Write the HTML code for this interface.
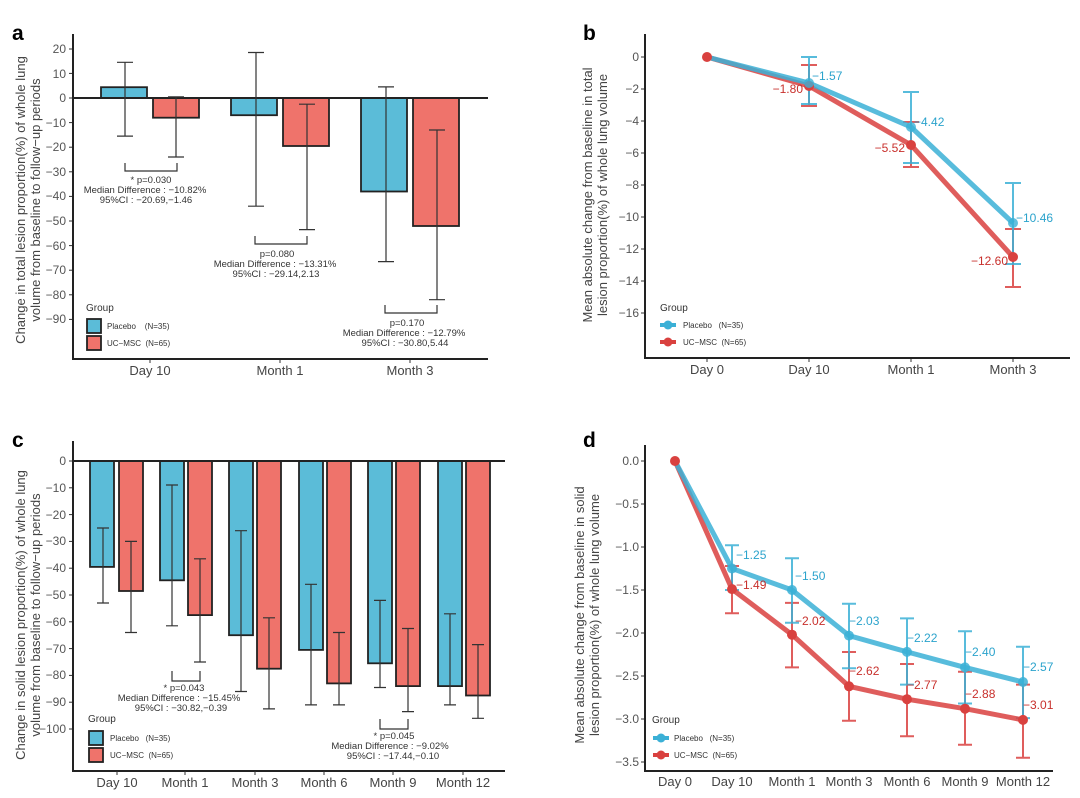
<!DOCTYPE html>
<html><head><meta charset="utf-8"><style>
html,body{margin:0;padding:0;background:#fff;}
svg{display:block;font-family:"Liberation Sans",sans-serif;}
.t{font-size:13px;fill:#444;}
.tk{font-size:12px;fill:#555;}
.sm{font-size:9.5px;fill:#333;}
.lg{font-size:8px;fill:#333;}
.ax{stroke:#222;stroke-width:2;fill:none;}
.eb{stroke:#333;stroke-width:1.2;fill:none;}
.bP{fill:#5bbcd8;stroke:#222;stroke-width:1.8;}
.bU{fill:#ef736b;stroke:#222;stroke-width:1.8;}
.lb{font-size:12px;}
</style></head><body>
<svg width="1080" height="798" viewBox="0 0 1080 798">
<text x="12" y="40" font-size="21" font-weight="bold">a</text>
<text x="583" y="40" font-size="21" font-weight="bold">b</text>
<text x="12" y="447" font-size="21" font-weight="bold">c</text>
<text x="583" y="447" font-size="21" font-weight="bold">d</text>

<!-- ===== Panel a ===== -->
<text class="t" transform="translate(25,200) rotate(-90)" text-anchor="middle">Change in total lesion proportion(%) of whole lung</text>
<text class="t" transform="translate(40,200) rotate(-90)" text-anchor="middle">volume from baseline to follow−up periods</text>
<g class="tk" text-anchor="end">
<text x="66" y="53">20</text><text x="66" y="78">10</text><text x="66" y="102">0</text>
<text x="66" y="127">−10</text><text x="66" y="151">−20</text><text x="66" y="176">−30</text>
<text x="66" y="200">−40</text><text x="66" y="225">−50</text><text x="66" y="250">−60</text>
<text x="66" y="274">−70</text><text x="66" y="299">−80</text><text x="66" y="323">−90</text>
</g>
<g stroke="#333" stroke-width="1">
<line x1="69" x2="73" y1="49" y2="49"/><line x1="69" x2="73" y1="73.4" y2="73.4"/><line x1="69" x2="73" y1="98" y2="98"/>
<line x1="69" x2="73" y1="122.6" y2="122.6"/><line x1="69" x2="73" y1="147.2" y2="147.2"/><line x1="69" x2="73" y1="171.8" y2="171.8"/>
<line x1="69" x2="73" y1="196.4" y2="196.4"/><line x1="69" x2="73" y1="221" y2="221"/><line x1="69" x2="73" y1="245.6" y2="245.6"/>
<line x1="69" x2="73" y1="270.2" y2="270.2"/><line x1="69" x2="73" y1="294.8" y2="294.8"/><line x1="69" x2="73" y1="319.4" y2="319.4"/>
<line x1="150" x2="150" y1="359" y2="363"/><line x1="280" x2="280" y1="359" y2="363"/><line x1="410" x2="410" y1="359" y2="363"/>
</g>
<rect class="bP" x="101" y="87.2" width="46" height="10.8"/>
<rect class="bU" x="153" y="98" width="46" height="19.7"/>
<rect class="bP" x="231" y="98" width="46" height="17.2"/>
<rect class="bU" x="283" y="98" width="46" height="48"/>
<rect class="bP" x="361" y="98" width="46" height="93.5"/>
<rect class="bU" x="413" y="98" width="46" height="128"/>
<line x1="73" x2="488" y1="98" y2="98" stroke="#222" stroke-width="2"/>
<g class="eb">
<path d="M125 62.3V136.1M117 62.3H133M117 136.1H133"/>
<path d="M176 96.8V157M168 96.8H184M168 157H184"/>
<path d="M256 52.5V206.2M248 52.5H264M248 206.2H264"/>
<path d="M307 104.2V229.6M299 104.2H315M299 229.6H315"/>
<path d="M386 86.9V261.6M378 86.9H394M378 261.6H394"/>
<path d="M437 130V299.7M429 130H445M429 299.7H445"/>
<path d="M125 163V171H177V163"/>
<path d="M255 236V244H307V236"/>
<path d="M385 305V313H437V305"/>
</g>
<g class="sm" text-anchor="middle">
<text x="151" y="183">* p=0.030</text>
<text x="145" y="193">Median Difference : −10.82%</text>
<text x="146" y="203">95%CI : −20.69,−1.46</text>
<text x="277" y="257">p=0.080</text>
<text x="275" y="267">Median Difference : −13.31%</text>
<text x="276" y="277">95%CI : −29.14,2.13</text>
<text x="407" y="326">p=0.170</text>
<text x="404" y="336">Median Difference : −12.79%</text>
<text x="405" y="346">95%CI : −30.80,5.44</text>
</g>
<text x="86" y="311" font-size="10" fill="#333">Group</text>
<rect class="bP" x="87" y="319" width="14" height="14"/>
<rect class="bU" x="87" y="336" width="14" height="14"/>
<text class="lg" x="107" y="329">Placebo &#160;&#160;&#160;(N=35)</text>
<text class="lg" x="107" y="346">UC−MSC &#160;(N=65)</text>
<path class="ax" d="M73 34V359H488"/>
<g class="t" text-anchor="middle"><text x="150" y="375">Day 10</text><text x="280" y="375">Month 1</text><text x="410" y="375">Month 3</text></g>

<!-- ===== Panel b ===== -->
<text class="t" transform="translate(592,195) rotate(-90)" text-anchor="middle">Mean absolute change from baseline in total</text>
<text class="t" transform="translate(607,195) rotate(-90)" text-anchor="middle">lesion proportion(%) of whole lung volume</text>
<g class="tk" text-anchor="end">
<text x="639" y="61">0</text><text x="639" y="93">−2</text><text x="639" y="125">−4</text><text x="639" y="157">−6</text>
<text x="639" y="189">−8</text><text x="639" y="221">−10</text><text x="639" y="253">−12</text><text x="639" y="285">−14</text><text x="639" y="317">−16</text>
</g>
<g stroke="#333" stroke-width="1">
<line x1="641" x2="645" y1="57" y2="57"/><line x1="641" x2="645" y1="89" y2="89"/><line x1="641" x2="645" y1="121" y2="121"/><line x1="641" x2="645" y1="153" y2="153"/><line x1="641" x2="645" y1="185" y2="185"/><line x1="641" x2="645" y1="217" y2="217"/><line x1="641" x2="645" y1="249" y2="249"/><line x1="641" x2="645" y1="281" y2="281"/><line x1="641" x2="645" y1="313" y2="313"/>
<line x1="707" x2="707" y1="358" y2="362"/><line x1="809" x2="809" y1="358" y2="362"/><line x1="911" x2="911" y1="358" y2="362"/><line x1="1013" x2="1013" y1="358" y2="362"/>
</g>
<g stroke="#d9413f" stroke-opacity="0.85" fill="none" stroke-width="2">
<path d="M809 65V106M801 65H817M801 106H817"/>
<path d="M911 122V167M903 122H919M903 167H919"/>
<path d="M1013 229V287M1005 229H1021M1005 287H1021"/>
</g>
<g stroke="#3bb0d6" stroke-opacity="0.85" fill="none" stroke-width="2">
<path d="M809 57V104M801 57H817M801 104H817"/>
<path d="M911 92V163M903 92H919M903 163H919"/>
<path d="M1013 183V264M1005 183H1021M1005 264H1021"/>
</g>
<polyline points="707,57 809,86 911,145 1013,257" fill="none" stroke="#d9413f" stroke-opacity="0.85" stroke-width="5"/>
<polyline points="707,57 809,83 911,127 1013,223" fill="none" stroke="#3bb0d6" stroke-opacity="0.85" stroke-width="5"/>
<g fill="#d9413f"><circle cx="707" cy="57" r="5"/><circle cx="809" cy="86" r="5"/><circle cx="911" cy="145" r="5"/><circle cx="1013" cy="257" r="5"/></g>
<g fill="#3bb0d6" fill-opacity="0.8"><circle cx="809" cy="83" r="5"/><circle cx="911" cy="127" r="5"/><circle cx="1013" cy="223" r="5"/></g>
<g class="lb" fill="#2ba3cc"><text x="812" y="80">−1.57</text><text x="914" y="126">−4.42</text><text x="1016" y="222">−10.46</text></g>
<g class="lb" fill="#c8302c" text-anchor="end"><text x="803" y="93">−1.80</text><text x="905" y="152">−5.52</text><text x="1008" y="265">−12.60</text></g>
<text x="660" y="311" font-size="10" fill="#333">Group</text>
<line x1="660" x2="676" y1="325" y2="325" stroke="#3bb0d6" stroke-width="4"/><circle cx="668" cy="325" r="4.5" fill="#3bb0d6"/>
<line x1="660" x2="676" y1="342" y2="342" stroke="#d9413f" stroke-width="4"/><circle cx="668" cy="342" r="4.5" fill="#d9413f"/>
<text class="lg" x="683" y="328">Placebo &#160;&#160;(N=35)</text>
<text class="lg" x="683" y="345">UC−MSC &#160;(N=65)</text>
<path class="ax" d="M645 34V358H1070"/>
<g class="t" text-anchor="middle"><text x="707" y="374">Day 0</text><text x="809" y="374">Day 10</text><text x="911" y="374">Month 1</text><text x="1013" y="374">Month 3</text></g>

<!-- ===== Panel c ===== -->
<text class="t" transform="translate(25,615) rotate(-90)" text-anchor="middle">Change in solid lesion proportion(%) of whole lung</text>
<text class="t" transform="translate(40,615) rotate(-90)" text-anchor="middle">volume from baseline to follow−up periods</text>
<g class="tk" text-anchor="end">
<text x="66" y="465">0</text><text x="66" y="492">−10</text><text x="66" y="519">−20</text><text x="66" y="545">−30</text>
<text x="66" y="572">−40</text><text x="66" y="599">−50</text><text x="66" y="626">−60</text><text x="66" y="653">−70</text>
<text x="66" y="679">−80</text><text x="66" y="706">−90</text><text x="66" y="733">−100</text>
</g>
<g stroke="#333" stroke-width="1">
<line x1="69" x2="73" y1="461" y2="461"/><line x1="69" x2="73" y1="487.8" y2="487.8"/><line x1="69" x2="73" y1="514.6" y2="514.6"/><line x1="69" x2="73" y1="541.4" y2="541.4"/><line x1="69" x2="73" y1="568.2" y2="568.2"/><line x1="69" x2="73" y1="595" y2="595"/><line x1="69" x2="73" y1="621.8" y2="621.8"/><line x1="69" x2="73" y1="648.6" y2="648.6"/><line x1="69" x2="73" y1="675.4" y2="675.4"/><line x1="69" x2="73" y1="702.2" y2="702.2"/><line x1="69" x2="73" y1="729" y2="729"/>
</g>
<rect class="bP" x="90" y="461" width="24" height="105.9"/><rect class="bU" x="119" y="461" width="24" height="130"/>
<rect class="bP" x="160" y="461" width="24" height="119.3"/><rect class="bU" x="188" y="461" width="24" height="154.1"/>
<rect class="bP" x="229" y="461" width="24" height="174.2"/><rect class="bU" x="257" y="461" width="24" height="207.7"/>
<rect class="bP" x="299" y="461" width="24" height="188.9"/><rect class="bU" x="327" y="461" width="24" height="222.4"/>
<rect class="bP" x="368" y="461" width="24" height="202.3"/><rect class="bU" x="396" y="461" width="24" height="225.1"/>
<rect class="bP" x="438" y="461" width="24" height="225.1"/><rect class="bU" x="466" y="461" width="24" height="234.5"/>
<line x1="73" x2="505" y1="461" y2="461" stroke="#222" stroke-width="2"/>
<g class="eb">
<path d="M103 528V603M97 528H109M97 603H109"/><path d="M131 541.4V632.5M125 541.4H137M125 632.5H137"/>
<path d="M172 485V625.8M166 485H178M166 625.8H178"/><path d="M200 558.8V662M194 558.8H206M194 662H206"/>
<path d="M241 530.7V691.5M235 530.7H247M235 691.5H247"/><path d="M269 617.8V708.9M263 617.8H275M263 708.9H275"/>
<path d="M311 584.3V704.9M305 584.3H317M305 704.9H317"/><path d="M339 632.5V704.9M333 632.5H345M333 704.9H345"/>
<path d="M380 600.4V687.5M374 600.4H386M374 687.5H386"/><path d="M408 628.5V711.6M402 628.5H414M402 711.6H414"/>
<path d="M450 613.8V704.9M444 613.8H456M444 704.9H456"/><path d="M478 644.6V718.3M472 644.6H484M472 718.3H484"/>
<path d="M172 671V681H200V671"/>
<path d="M380 719V729H408V719"/>
</g>
<g class="sm" text-anchor="middle">
<text x="184" y="691">* p=0.043</text>
<text x="179" y="701">Median Difference : −15.45%</text>
<text x="181" y="711">95%CI : −30.82,−0.39</text>
<text x="394" y="739">* p=0.045</text>
<text x="390" y="749">Median Difference : −9.02%</text>
<text x="393" y="759">95%CI : −17.44,−0.10</text>
</g>
<text x="88" y="722" font-size="10" fill="#333">Group</text>
<rect class="bP" x="89" y="731" width="14" height="14"/>
<rect class="bU" x="89" y="748" width="14" height="14"/>
<text class="lg" x="110" y="741">Placebo &#160;&#160;(N=35)</text>
<text class="lg" x="110" y="758">UC−MSC &#160;(N=65)</text>
<path class="ax" d="M73 441V771H505"/>
<g stroke="#333" stroke-width="1">
<line x1="117" x2="117" y1="771" y2="775"/><line x1="185" x2="185" y1="771" y2="775"/><line x1="255" x2="255" y1="771" y2="775"/><line x1="324" x2="324" y1="771" y2="775"/><line x1="393" x2="393" y1="771" y2="775"/><line x1="463" x2="463" y1="771" y2="775"/>
</g>
<g class="t" text-anchor="middle"><text x="117" y="787">Day 10</text><text x="185" y="787">Month 1</text><text x="255" y="787">Month 3</text><text x="324" y="787">Month 6</text><text x="393" y="787">Month 9</text><text x="463" y="787">Month 12</text></g>

<!-- ===== Panel d ===== -->
<text class="t" transform="translate(584,615) rotate(-90)" text-anchor="middle">Mean absolute change from baseline in solid</text>
<text class="t" transform="translate(599,615) rotate(-90)" text-anchor="middle">lesion proportion(%) of whole lung volume</text>
<g class="tk" text-anchor="end">
<text x="639" y="465">0.0</text><text x="639" y="508">−0.5</text><text x="639" y="551">−1.0</text><text x="639" y="594">−1.5</text>
<text x="639" y="637">−2.0</text><text x="639" y="680">−2.5</text><text x="639" y="723">−3.0</text><text x="639" y="766">−3.5</text>
</g>
<g stroke="#333" stroke-width="1">
<line x1="641" x2="645" y1="461" y2="461"/><line x1="641" x2="645" y1="504" y2="504"/><line x1="641" x2="645" y1="547" y2="547"/><line x1="641" x2="645" y1="590" y2="590"/><line x1="641" x2="645" y1="633" y2="633"/><line x1="641" x2="645" y1="676" y2="676"/><line x1="641" x2="645" y1="719" y2="719"/><line x1="641" x2="645" y1="762" y2="762"/>
</g>
<g stroke="#d9413f" stroke-opacity="0.85" fill="none" stroke-width="2">
<path d="M732 566V613.2M725 566H739M725 613.2H739"/>
<path d="M792 602.9V667.4M785 602.9H799M785 667.4H799"/>
<path d="M849 652V720.7M842 652H856M842 720.7H856"/>
<path d="M907 664V736.2M900 664H914M900 736.2H914"/>
<path d="M965 671.7V744.8M958 671.7H972M958 744.8H972"/>
<path d="M1023 684.6V757.7M1016 684.6H1030M1016 757.7H1030"/>
</g>
<g stroke="#3bb0d6" stroke-opacity="0.85" fill="none" stroke-width="2">
<path d="M732 545.3V590M725 545.3H739M725 590H739"/>
<path d="M792 558.2V622.7M785 558.2H799M785 622.7H799"/>
<path d="M849 603.8V668.3M842 603.8H856M842 668.3H856"/>
<path d="M907 618.4V684.6M900 618.4H914M900 684.6H914"/>
<path d="M965 631.3V703.5M958 631.3H972M958 703.5H972"/>
<path d="M1023 646.8V718.1M1016 646.8H1030M1016 718.1H1030"/>
</g>
<polyline points="675,461 732,589.1 792,634.7 849,686.3 907,699.2 965,708.7 1023,719.9" fill="none" stroke="#d9413f" stroke-opacity="0.85" stroke-width="5"/>
<polyline points="675,461 732,568.5 792,590 849,635.6 907,651.9 965,667.4 1023,682" fill="none" stroke="#3bb0d6" stroke-opacity="0.85" stroke-width="5"/>
<g fill="#d9413f"><circle cx="675" cy="461" r="5"/><circle cx="732" cy="589.1" r="5"/><circle cx="792" cy="634.7" r="5"/><circle cx="849" cy="686.3" r="5"/><circle cx="907" cy="699.2" r="5"/><circle cx="965" cy="708.7" r="5"/><circle cx="1023" cy="719.9" r="5"/></g>
<g fill="#3bb0d6" fill-opacity="0.85"><circle cx="732" cy="568.5" r="5"/><circle cx="792" cy="590" r="5"/><circle cx="849" cy="635.6" r="5"/><circle cx="907" cy="651.9" r="5"/><circle cx="965" cy="667.4" r="5"/><circle cx="1023" cy="682" r="5"/></g>
<g class="lb" fill="#2ba3cc"><text x="736" y="559">−1.25</text><text x="795" y="580">−1.50</text><text x="849" y="625">−2.03</text><text x="907" y="642">−2.22</text><text x="965" y="656">−2.40</text><text x="1023" y="671">−2.57</text></g>
<g class="lb" fill="#c8302c"><text x="736" y="589">−1.49</text><text x="795" y="625">−2.02</text><text x="849" y="675">−2.62</text><text x="907" y="689">−2.77</text><text x="965" y="698">−2.88</text><text x="1023" y="709">−3.01</text></g>
<text x="652" y="723" font-size="10" fill="#333">Group</text>
<line x1="653" x2="669" y1="738" y2="738" stroke="#3bb0d6" stroke-width="4"/><circle cx="661" cy="738" r="4.5" fill="#3bb0d6"/>
<line x1="653" x2="669" y1="755" y2="755" stroke="#d9413f" stroke-width="4"/><circle cx="661" cy="755" r="4.5" fill="#d9413f"/>
<text class="lg" x="674" y="741">Placebo &#160;&#160;(N=35)</text>
<text class="lg" x="674" y="758">UC−MSC &#160;(N=65)</text>
<path class="ax" d="M645 445V771H1053"/>
<g class="t" text-anchor="middle"><text x="675" y="786">Day 0</text><text x="732" y="786">Day 10</text><text x="792" y="786">Month 1</text><text x="849" y="786">Month 3</text><text x="907" y="786">Month 6</text><text x="965" y="786">Month 9</text><text x="1023" y="786">Month 12</text></g>
</svg>
</body></html>
